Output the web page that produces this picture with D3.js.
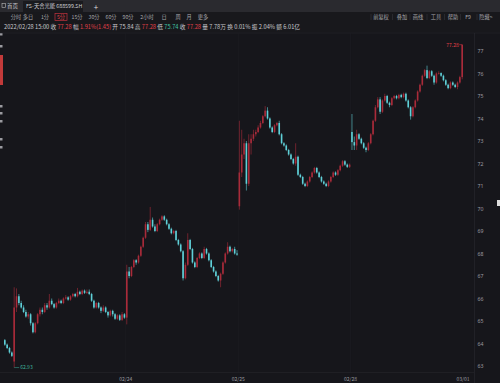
<!DOCTYPE html>
<html>
<head>
<meta charset="utf-8">
<script src="https://cdn.jsdelivr.net/npm/d3@7"></script>
<style>
  body { margin: 0; background: #16161b; }
  svg { display: block; font-family: "Noto Sans CJK SC", "Noto Sans", sans-serif; }
</style>
</head>
<body>
<script>
const W = 500, H = 383;

// 5-minute bars, 02/22 tail + 02/23 .. 02/28
const opens = [
  64.15, 63.95, 63.8, 63.6, 63.2, 65.6, 66.1, 65.8, 65.6, 65.4,
  65.2, 65.3, 64.9, 64.5, 64.9, 65.3, 65.5, 65.4, 65.7, 65.6,
  65.9, 65.75, 65.6, 65.8, 65.9, 65.8, 66.0, 66.05, 65.95, 66.1,
  66.2, 66.1, 66.3, 66.2, 66.35, 66.25, 66.3, 66.2, 65.9, 65.6,
  65.8, 65.6, 65.45, 65.6, 65.4, 65.25, 65.45, 65.3, 65.1, 65.25,
  65.05, 65.3, 65.15, 67.2, 67.0, 67.4, 67.7, 67.6, 67.9, 68.3,
  68.7, 69.3, 69.05, 69.5, 69.2, 69.0, 69.3, 69.5, 69.65, 69.5,
  69.3, 69.1, 68.9, 69.0, 68.6, 68.4, 68.1, 66.9, 67.5, 68.6,
  68.2, 67.6, 67.4, 67.8, 68.0, 67.8, 68.2, 68.0, 67.7, 67.4,
  67.2, 67.0, 66.8, 67.1, 67.6, 68.0, 68.3, 68.1, 68.2, 68.0,
  70.1, 71.6, 72.4, 72.9, 71.1, 72.9, 73.1, 73.3, 73.4, 73.6,
  73.8, 74.1, 74.35, 74.0, 73.6, 73.4, 73.7, 73.8, 73.3, 72.9,
  72.8, 72.6, 72.4, 72.2, 72.0, 72.3, 71.5, 71.4, 71.1, 71.0,
  71.2, 71.4, 71.6, 71.8, 71.6, 71.4, 71.2, 71.1, 71.0, 71.2,
  71.4, 71.6, 71.5, 71.7, 71.9, 72.1, 71.95, 71.85, 73.4, 72.95,
  72.8, 73.3, 73.1, 72.9, 72.7, 72.6, 72.9, 73.3, 73.9, 74.5,
  74.85, 74.3, 74.8, 75.0, 74.7, 74.6, 74.9, 75.0, 74.9, 75.05,
  74.95, 75.1, 74.8, 74.5, 74.1, 74.5, 74.8, 75.2, 75.5, 75.9,
  76.15, 75.8, 76.1, 75.9, 75.6, 76.0, 76.02, 75.9, 75.7, 75.5,
  75.35, 75.6, 75.5, 75.4, 75.6, 75.84
];
const highs = [
  64.2, 64.0, 63.85, 63.65, 66.5, 66.45, 66.2, 65.9, 65.7, 65.5,
  65.4, 65.35, 64.95, 64.95, 65.35, 65.6, 65.6, 65.8, 65.8, 66.2,
  66.0, 65.8, 65.85, 66.0, 65.95, 66.05, 66.15, 66.1, 66.15, 66.25,
  66.25, 66.47, 66.35, 66.4, 66.4, 66.4, 66.4, 66.25, 65.95, 65.85,
  65.85, 65.65, 65.7, 65.65, 65.45, 65.5, 65.5, 65.35, 65.3, 65.3,
  65.4, 65.35, 67.5, 67.4, 67.45, 67.75, 67.75, 67.95, 68.35, 68.75,
  69.4, 69.4, 70.07, 69.6, 69.3, 69.35, 69.55, 69.7, 69.7, 69.55,
  69.35, 69.15, 69.05, 69.05, 68.65, 68.45, 68.15, 67.6, 68.9, 68.65,
  68.25, 67.65, 67.85, 68.05, 68.05, 68.3, 68.25, 68.05, 67.75, 67.45,
  67.25, 67.05, 67.15, 67.65, 68.05, 68.5, 68.35, 68.25, 68.3, 68.15,
  73.9, 73.5, 73.1, 73.0, 73.3, 73.3, 73.5, 73.5, 73.7, 73.9,
  74.15, 74.55, 74.5, 74.05, 73.65, 73.75, 73.85, 73.9, 73.35, 72.95,
  72.85, 72.65, 72.45, 72.25, 72.9, 72.35, 71.55, 71.45, 71.15, 71.25,
  71.45, 71.65, 71.85, 71.85, 71.65, 71.45, 71.25, 71.15, 71.25, 71.45,
  71.65, 71.65, 71.75, 71.95, 72.15, 72.15, 72.0, 72.0, 74.2, 73.2,
  73.5, 73.35, 73.15, 72.95, 72.75, 72.95, 73.35, 73.95, 74.6, 74.95,
  74.95, 74.85, 75.1, 75.05, 74.75, 74.95, 75.05, 75.05, 75.1, 75.1,
  75.15, 75.15, 74.85, 74.55, 74.55, 74.85, 75.25, 75.55, 75.95, 76.2,
  76.35, 76.15, 76.15, 75.95, 76.05, 76.1, 76.05, 75.95, 75.75, 75.55,
  75.65, 75.65, 75.55, 75.65, 75.9, 77.28
];
const lows = [
  63.9, 63.75, 63.55, 63.4, 62.93, 65.4, 65.7, 65.55, 65.35, 65.15,
  65.1, 64.8, 64.45, 64.45, 64.85, 65.2, 65.3, 65.35, 65.5, 65.55,
  65.7, 65.55, 65.55, 65.75, 65.75, 65.75, 65.95, 65.9, 65.9, 66.05,
  66.05, 66.05, 66.15, 66.15, 66.2, 66.2, 66.15, 65.85, 65.55, 65.55,
  65.55, 65.35, 65.4, 65.35, 65.15, 65.2, 65.2, 65.05, 65.05, 65.0,
  65.0, 65.1, 64.85, 66.9, 66.95, 67.35, 67.5, 67.55, 67.85, 68.25,
  68.65, 68.95, 69.0, 69.15, 68.95, 68.95, 69.25, 69.45, 69.45, 69.25,
  69.05, 68.85, 68.85, 68.55, 68.35, 68.05, 66.8, 66.85, 67.45, 68.15,
  67.55, 67.35, 67.35, 67.75, 67.75, 67.75, 67.95, 67.65, 67.35, 67.15,
  66.95, 66.75, 66.5, 67.05, 67.55, 67.95, 68.05, 68.05, 67.95, 67.9,
  69.95, 71.4, 72.2, 70.8, 71.0, 72.4, 73.0, 73.2, 73.35, 73.55,
  73.75, 74.05, 73.95, 73.55, 73.35, 73.35, 73.65, 73.25, 72.85, 72.75,
  72.55, 72.35, 72.15, 71.95, 71.9, 71.45, 71.35, 71.05, 70.95, 70.95,
  71.15, 71.35, 71.55, 71.55, 71.35, 71.15, 71.05, 70.95, 70.95, 71.15,
  71.35, 71.45, 71.45, 71.65, 71.85, 71.9, 71.8, 71.8, 72.6, 72.6,
  72.6, 73.05, 72.85, 72.65, 72.5, 72.55, 72.85, 73.25, 73.85, 74.45,
  74.2, 74.25, 74.75, 74.65, 74.5, 74.55, 74.85, 74.85, 74.85, 74.9,
  74.9, 74.75, 74.45, 73.95, 74.05, 74.45, 74.75, 75.15, 75.45, 75.85,
  75.75, 75.75, 75.85, 75.5, 75.55, 75.95, 75.85, 75.65, 75.45, 75.3,
  75.3, 75.45, 75.35, 75.3, 75.55, 75.74
];
const closes = [
  63.95, 63.8, 63.6, 63.45, 65.6, 66.1, 65.8, 65.6, 65.4, 65.2,
  65.3, 64.9, 64.5, 64.9, 65.3, 65.5, 65.4, 65.7, 65.6, 65.9,
  65.75, 65.6, 65.8, 65.9, 65.8, 66.0, 66.05, 65.95, 66.1, 66.2,
  66.1, 66.3, 66.2, 66.35, 66.25, 66.3, 66.2, 65.9, 65.6, 65.8,
  65.6, 65.45, 65.6, 65.4, 65.25, 65.45, 65.3, 65.1, 65.25, 65.05,
  65.3, 65.15, 67.2, 67.0, 67.4, 67.7, 67.6, 67.9, 68.3, 68.7,
  69.3, 69.05, 69.5, 69.2, 69.0, 69.3, 69.5, 69.65, 69.5, 69.3,
  69.1, 68.9, 69.0, 68.6, 68.4, 68.1, 66.9, 67.5, 68.6, 68.2,
  67.6, 67.4, 67.8, 68.0, 67.8, 68.2, 68.0, 67.7, 67.4, 67.2,
  67.0, 66.8, 67.1, 67.6, 68.0, 68.3, 68.1, 68.2, 68.0, 67.95,
  71.6, 72.4, 72.9, 71.1, 72.9, 73.1, 73.3, 73.4, 73.6, 73.8,
  74.1, 74.35, 74.0, 73.6, 73.4, 73.7, 73.8, 73.3, 72.9, 72.8,
  72.6, 72.4, 72.2, 72.0, 72.3, 71.5, 71.4, 71.1, 71.0, 71.2,
  71.4, 71.6, 71.8, 71.6, 71.4, 71.2, 71.1, 71.0, 71.2, 71.4,
  71.6, 71.5, 71.7, 71.9, 72.1, 71.95, 71.85, 71.95, 72.95, 72.8,
  73.3, 73.1, 72.9, 72.7, 72.6, 72.9, 73.3, 73.9, 74.5, 74.85,
  74.3, 74.8, 75.0, 74.7, 74.6, 74.9, 75.0, 74.9, 75.05, 74.95,
  75.1, 74.8, 74.5, 74.1, 74.5, 74.8, 75.2, 75.5, 75.9, 76.15,
  75.8, 76.1, 75.9, 75.6, 76.0, 76.02, 75.9, 75.7, 75.5, 75.35,
  75.6, 75.5, 75.4, 75.6, 75.84, 77.28
];

const dayLabels = ["02/24", "02/25", "02/28", "03/01"];
const dayStarts = [52, 100, 148, 196];
const yTicks = [63, 64, 65, 66, 67, 68, 69, 70, 71, 72, 73, 74, 75, 76, 77];

const periods = ["分时", "多日", "1分", "5分", "15分", "30分", "60分", "90分", "2小时", "日", "周", "月", "更多"];
const periodX = [16, 28, 45, 61, 77, 94, 111, 128, 147, 164, 178, 189, 203];
const tools = ["前复权", "叠加", "画线", "工具", "帮助", "F9", "隐藏>"];
const toolX = [381, 402, 418, 436, 453, 468, 486];

const RED = "#a92b3a", TEAL = "#5fd0d8";
const TXT = "#a9a9ad";

const svg = d3.select("body").append("svg")
    .attr("width", W)
    .attr("height", H);

svg.append("rect").attr("width", W).attr("height", H).attr("fill", "#16161b");

// top tab bar
svg.append("rect").attr("width", W).attr("height", 12).attr("fill", "#2a2a2f");
svg.append("rect").attr("x", 23).attr("y", 1).attr("width", 60).attr("height", 11).attr("fill", "#1a1a1e");
svg.append("rect").attr("x", 2).attr("y", 3.5).attr("width", 3.5).attr("height", 4).attr("fill", "none")
    .attr("stroke", "#bbb").attr("stroke-width", 0.6);
svg.append("text").attr("x", 7).attr("y", 8).attr("font-size", 5.5).attr("fill", "#c8c8cc").text("首页");
svg.append("text").attr("x", 26).attr("y", 8).attr("font-size", 5.3).attr("fill", "#d0d0d4").text("FS-天合光能 688599.SH");
svg.append("text").attr("x", 96).attr("y", 10).attr("font-size", 8).attr("fill", "#ddd")
    .attr("text-anchor", "middle").text("+");

// period buttons
svg.append("rect").attr("x", 0).attr("y", 12).attr("width", W).attr("height", 20).attr("fill", "#18181c");
svg.append("rect").attr("x", 55).attr("y", 13.5).attr("width", 12).attr("height", 7)
    .attr("fill", "none").attr("stroke", "#c2323e").attr("stroke-width", 0.7);
svg.selectAll(".period").data(periods).join("text")
    .attr("x", (d, i) => periodX[i]).attr("y", 19)
    .attr("text-anchor", "middle").attr("font-size", 5.2)
    .attr("fill", (d, i) => i === 3 ? "#e0404a" : TXT)
    .text(d => d);
svg.selectAll(".tool").data(tools).join("text")
    .attr("x", (d, i) => toolX[i]).attr("y", 19)
    .attr("text-anchor", "middle").attr("font-size", 5.2).attr("fill", TXT)
    .text(d => d);
svg.selectAll(".tsep").data(toolX.slice(0, -1)).join("line")
    .attr("x1", (d, i) => (toolX[i] + toolX[i + 1]) / 2 + (i === 0 ? 1 : 0)).attr("x2", (d, i) => (toolX[i] + toolX[i + 1]) / 2 + (i === 0 ? 1 : 0))
    .attr("y1", 14).attr("y2", 20).attr("stroke", "#3a3a40").attr("stroke-width", 0.5);
svg.append("line").attr("x1", 371).attr("x2", 371).attr("y1", 14).attr("y2", 20).attr("stroke", "#3a3a40").attr("stroke-width", 0.5);

// info line of the latest bar
const info = [
  ["2022/02/28 15:00 ", "#c8c8cc"], ["收 ", "#c8c8cc"], ["77.28", "#e0404a"],
  [" 幅 ", "#c8c8cc"], ["1.91%(1.45)", "#e0404a"], [" 开 ", "#c8c8cc"], ["75.84", "#c8c8cc"],
  [" 高 ", "#c8c8cc"], ["77.28", "#e0404a"], [" 低 ", "#c8c8cc"], ["75.74", "#3fc3a6"],
  [" 收 ", "#c8c8cc"], ["77.28", "#e0404a"], [" 量 ", "#c8c8cc"], ["7.78万", "#c8c8cc"],
  [" 换 ", "#c8c8cc"], ["0.01%", "#c8c8cc"], [" 振 ", "#c8c8cc"], ["2.04%", "#c8c8cc"],
  [" 额 ", "#c8c8cc"], ["6.01亿", "#c8c8cc"]
];
const infoText = svg.append("text").attr("x", 4).attr("y", 28.5).attr("font-size", 5.7)
    .attr("xml:space", "preserve");
infoText.selectAll("tspan").data(info).join("tspan")
    .attr("fill", d => d[1]).text(d => d[0]);

// left side strip
svg.append("rect").attr("x", 0).attr("y", 55).attr("width", 3).attr("height", 30).attr("fill", "#c23a3a");
[33, 45, 105, 112, 120, 138, 146].forEach(yy => {
  svg.append("rect").attr("x", 0).attr("y", yy).attr("width", 2.5).attr("height", 2.5).attr("fill", "#9a9aa0");
});

// scales
const x = d3.scaleBand().domain(d3.range(closes.length)).range([4, 463]).paddingInner(0.32);
const xb = d3.scaleLinear().domain([0, closes.length]).range([4, 463]);
const y = d3.scaleLinear().domain([63, 77]).range([366, 51]);

// frame
svg.append("line").attr("x1", 0).attr("x2", W).attr("y1", 33).attr("y2", 33).attr("stroke", "#26262c").attr("stroke-width", 0.6);
svg.append("line").attr("x1", 0).attr("x2", 474).attr("y1", 372.5).attr("y2", 372.5).attr("stroke", "#26262c").attr("stroke-width", 0.6);
svg.append("line").attr("x1", 474.5).attr("x2", 474.5).attr("y1", 33).attr("y2", H).attr("stroke", "#2a2a30").attr("stroke-width", 0.6);
svg.selectAll(".vgrid").data(dayStarts.slice(0, 3)).join("line")
    .attr("x1", d => xb(d)).attr("x2", d => xb(d))
    .attr("y1", 33).attr("y2", 372).attr("stroke", "#1e1e24").attr("stroke-width", 0.6);

// candles
const idx = d3.range(closes.length);
const g = svg.append("g");
g.selectAll(".wick").data(idx).join("line")
    .attr("x1", i => x(i) + x.bandwidth() / 2).attr("x2", i => x(i) + x.bandwidth() / 2)
    .attr("y1", i => y(highs[i])).attr("y2", i => y(lows[i]))
    .attr("stroke", i => closes[i] >= opens[i] ? RED : TEAL)
    .attr("stroke-width", 0.6);
g.selectAll(".body").data(idx).join("rect")
    .attr("x", i => x(i)).attr("width", x.bandwidth())
    .attr("y", i => y(Math.max(opens[i], closes[i])))
    .attr("height", i => Math.max(0.7, Math.abs(y(opens[i]) - y(closes[i]))))
    .attr("fill", i => closes[i] >= opens[i] ? RED : TEAL);

// y axis
const yAxis = svg.append("g").attr("transform", "translate(476,0)")
    .call(d3.axisRight(y).tickValues(yTicks).tickSize(0).tickPadding(1.5).tickFormat(d3.format("d")));
yAxis.select(".domain").remove();
yAxis.selectAll("text").attr("fill", "#9c9ca2").attr("font-size", 5.2)
    .attr("font-family", "'Noto Sans', sans-serif");

// x labels at day boundaries
svg.selectAll(".xlab").data(dayLabels).join("text")
    .attr("x", (d, i) => xb(dayStarts[i])).attr("y", 380.5)
    .attr("text-anchor", "middle").attr("font-size", 5).attr("fill", "#9c9ca2")
    .text(d => d);

// min / max markers
const iMin = d3.minIndex(lows), iMax = d3.maxIndex(highs);
const xMin = x(iMin) + x.bandwidth() / 2, xMax = x(iMax) + x.bandwidth() / 2;
svg.append("line").attr("x1", xMin).attr("x2", xMin + 5).attr("y1", y(lows[iMin])).attr("y2", y(lows[iMin]))
    .attr("stroke", "#3fb59c").attr("stroke-width", 0.5);
svg.append("text").attr("x", xMin + 6).attr("y", y(lows[iMin]) + 1.8).attr("font-size", 5)
    .attr("fill", "#3fb59c").text(lows[iMin].toFixed(2));
svg.append("line").attr("x1", xMax - 3).attr("x2", xMax).attr("y1", y(highs[iMax])).attr("y2", y(highs[iMax]))
    .attr("stroke", "#e0404a").attr("stroke-width", 0.5);
svg.append("text").attr("x", xMax - 3.5).attr("y", y(highs[iMax]) + 1.8).attr("font-size", 5)
    .attr("text-anchor", "end").attr("fill", "#e0404a").text(highs[iMax].toFixed(2));

// small scroll handle at right edge
svg.append("rect").attr("x", 497).attr("y", 200).attr("width", 3).attr("height", 6).attr("fill", "#ddd");
</script>
</body>
</html>
